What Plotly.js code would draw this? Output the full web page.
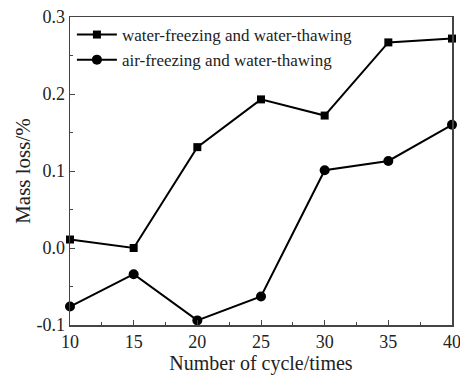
<!DOCTYPE html>
<html>
<head>
<meta charset="utf-8">
<script src="https://cdn.plot.ly/plotly-3.0.1.min.js"></script>
<style>
  html, body { margin: 0; padding: 0; background: #fff; }
  #chart { width: 460px; height: 379px; }
</style>
</head>
<body>
<div id="chart"></div>
<script>
// Freeze-thaw cycles and measured mass loss
const cycles = [10, 15, 20, 25, 30, 35, 40];
const waterFreezeWaterThaw = [0.011, 0.000, 0.131, 0.193, 0.172, 0.267, 0.272];
const airFreezeWaterThaw = [-0.076, -0.034, -0.094, -0.063, 0.101, 0.113, 0.160];

const seriesNames = ['water-freezing and water-thawing', 'air-freezing and water-thawing'];
const xTickVals = [10, 15, 20, 25, 30, 35, 40];
const yTickVals = [-0.1, 0.0, 0.1, 0.2, 0.3];
const yTickText = ['-0.1', '0.0', '0.1', '0.2', '0.3'];

const font = 'Liberation Serif, Times New Roman, serif';

const traces = [
  {
    x: cycles, y: waterFreezeWaterThaw, name: seriesNames[0],
    type: 'scatter', mode: 'lines+markers', cliponaxis: false,
    line: { color: '#000', width: 2 },
    marker: { symbol: 'square', size: 8, color: '#000' }
  },
  {
    x: cycles, y: airFreezeWaterThaw, name: seriesNames[1],
    type: 'scatter', mode: 'lines+markers', cliponaxis: false,
    line: { color: '#000', width: 2 },
    marker: { symbol: 'circle', size: 10, color: '#000' }
  }
];

const axisCommon = {
  showline: true, linecolor: '#444', linewidth: 1.5, mirror: true,
  ticks: 'inside', ticklen: 5, tickwidth: 1, tickcolor: '#444',
  showgrid: false, zeroline: false, ticklabeloverflow: 'allow',
  tickfont: { family: font, size: 18, color: '#222' }
};

const layout = {
  width: 460, height: 379,
  margin: { l: 70, r: 8, t: 17, b: 54 },
  paper_bgcolor: '#fff', plot_bgcolor: '#fff',
  showlegend: true,
  legend: {
    x: 0.005, y: 1.0, xanchor: 'left', yanchor: 'top',
    bgcolor: 'rgba(0,0,0,0)', borderwidth: 0,
    font: { family: font, size: 17, color: '#222' },
    itemwidth: 40, tracegroupgap: 0
  },
  xaxis: Object.assign({}, axisCommon, {
    range: [10, 40], tickvals: xTickVals,
    minor: { ticks: 'inside', dtick: 2.5, ticklen: 3, tickcolor: '#444' },
    title: { text: 'Number of cycle/times', font: { family: font, size: 20, color: '#222' }, standoff: 4 }
  }),
  yaxis: Object.assign({}, axisCommon, {
    range: [-0.1, 0.3], tickvals: yTickVals, ticktext: yTickText,
    minor: { ticks: 'inside', dtick: 0.05, ticklen: 3, tickcolor: '#444' },
    title: { text: 'Mass loss/%', font: { family: font, size: 21, color: '#222' }, standoff: 0 }
  })
};

Plotly.newPlot('chart', traces, layout, { staticPlot: true, displayModeBar: false });
</script>
</body>
</html>
